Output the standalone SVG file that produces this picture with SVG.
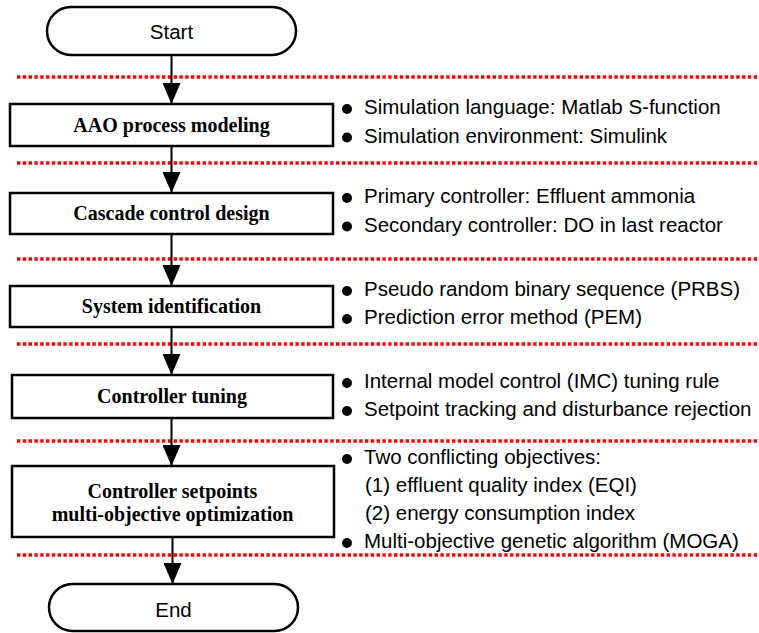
<svg xmlns="http://www.w3.org/2000/svg" width="759" height="633" viewBox="0 0 759 633">
<style>
.term{fill:#fff;stroke:#000;stroke-width:2.5}
.box{fill:#fff;stroke:#000;stroke-width:2.5}
.tt{font-family:"Liberation Sans",Arial,sans-serif;font-size:20.5px;fill:#000;text-anchor:middle}
.bt{font-family:"Liberation Serif","Times New Roman",serif;font-size:20px;font-weight:bold;fill:#000;text-anchor:middle}
.nt{font-family:"Liberation Sans",Arial,sans-serif;font-size:20.5px;fill:#000}
.sep{stroke:#ff0000;stroke-width:3.5;stroke-dasharray:3.4 2.4;fill:none}
.conn{stroke:#000;stroke-width:2;fill:none;marker-end:url(#ah)}
.dot{fill:#000}
</style>
<defs>
<marker id="ah" viewBox="0 0 21 18" refX="21" refY="9" markerUnits="userSpaceOnUse" markerWidth="21" markerHeight="18" orient="auto">
<path d="M0,0 L21,9 L0,18 z" fill="#000"/>
</marker>
</defs>
<rect width="759" height="633" fill="#fff"/>
<g id="separators">
<line class="sep" x1="17" y1="77" x2="759" y2="77"/>
<line class="sep" x1="17" y1="163" x2="759" y2="163"/>
<line class="sep" x1="17" y1="259" x2="759" y2="259"/>
<line class="sep" x1="17" y1="344" x2="759" y2="344"/>
<line class="sep" x1="17" y1="441" x2="759" y2="441"/>
<line class="sep" x1="17" y1="555" x2="759" y2="555"/>
</g>
<g id="connectors">
<line class="conn" x1="171.5" y1="55" x2="171.5" y2="104"/>
<line class="conn" x1="171.5" y1="146" x2="171.5" y2="193"/>
<line class="conn" x1="171.5" y1="234" x2="171.5" y2="286"/>
<line class="conn" x1="171.5" y1="327" x2="171.5" y2="375"/>
<line class="conn" x1="171.5" y1="418" x2="171.5" y2="466"/>
<line class="conn" x1="172.5" y1="537" x2="172.5" y2="584"/>
</g>
<g id="start">
<rect class="term" x="47" y="7" width="249" height="48" rx="24" ry="24"/>
<text class="tt" x="171.5" y="39">Start</text>
</g>
<g id="n1">
<rect class="box" x="10" y="104" width="323" height="42"/>
<text class="bt" x="171.5" y="131.5">AAO process modeling</text>
</g>
<g id="n1-notes">
<circle class="dot" cx="347" cy="109" r="5"/>
<text class="nt" x="364" y="114">Simulation language: Matlab S-function</text>
<circle class="dot" cx="347" cy="137.5" r="5"/>
<text class="nt" x="364" y="142.5">Simulation environment: Simulink</text>
</g>
<g id="n2">
<rect class="box" x="10" y="193" width="323" height="41"/>
<text class="bt" x="171.5" y="220">Cascade control design</text>
</g>
<g id="n2-notes">
<circle class="dot" cx="347" cy="198" r="5"/>
<text class="nt" x="364" y="203">Primary controller: Effluent ammonia</text>
<circle class="dot" cx="347" cy="226.5" r="5"/>
<text class="nt" x="364" y="231.5">Secondary controller: DO in last reactor</text>
</g>
<g id="n3">
<rect class="box" x="10" y="286" width="323" height="41"/>
<text class="bt" x="171.5" y="313">System identification</text>
</g>
<g id="n3-notes">
<circle class="dot" cx="347" cy="291" r="5"/>
<text class="nt" x="364" y="296">Pseudo random binary sequence (PRBS)</text>
<circle class="dot" cx="347" cy="319" r="5"/>
<text class="nt" x="364" y="324">Prediction error method (PEM)</text>
</g>
<g id="n4">
<rect class="box" x="12" y="375" width="321" height="43"/>
<text class="bt" x="172" y="403">Controller tuning</text>
</g>
<g id="n4-notes">
<circle class="dot" cx="347" cy="383" r="5"/>
<text class="nt" x="364" y="388">Internal model control (IMC) tuning rule</text>
<circle class="dot" cx="347" cy="411" r="5"/>
<text class="nt" x="364" y="416">Setpoint tracking and disturbance rejection</text>
</g>
<g id="n5">
<rect class="box" x="12" y="466" width="322" height="71"/>
<text class="bt" x="172.5" y="498">Controller setpoints</text>
<text class="bt" x="172.5" y="521">multi-objective optimization</text>
</g>
<g id="n5-notes">
<circle class="dot" cx="347" cy="459" r="5"/>
<text class="nt" x="364" y="464">Two conflicting objectives:</text>
<text class="nt" x="365" y="492">(1) effluent quality index (EQI)</text>
<text class="nt" x="365" y="520">(2) energy consumption index</text>
<circle class="dot" cx="347" cy="543" r="5"/>
<text class="nt" x="364" y="548">Multi-objective genetic algorithm (MOGA)</text>
</g>
<g id="end">
<rect class="term" x="49" y="584" width="249" height="47" rx="23.5" ry="23.5"/>
<text class="tt" x="173.5" y="617">End</text>
</g>
</svg>
